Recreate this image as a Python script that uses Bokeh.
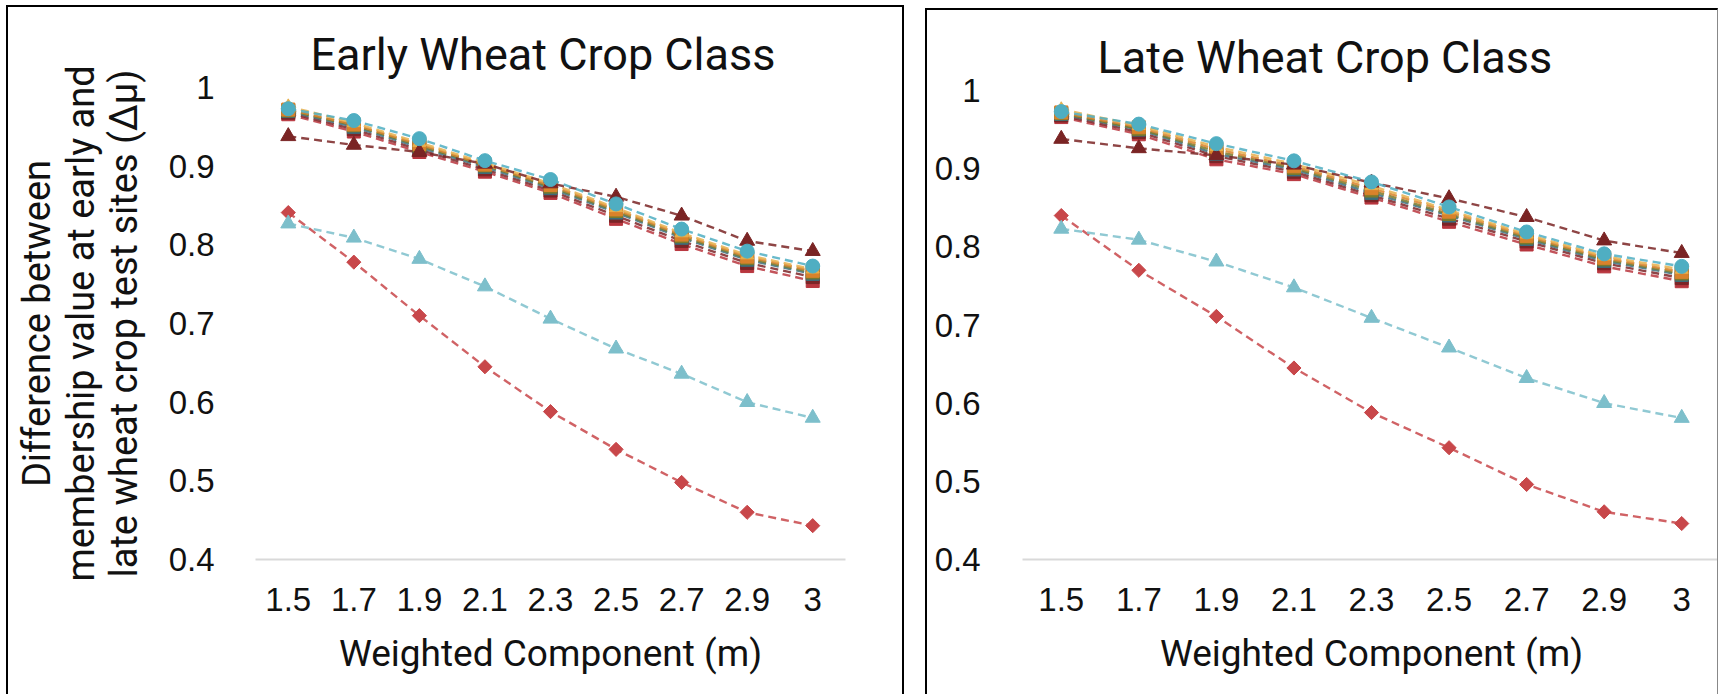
from bokeh.plotting import figure
from bokeh.layouts import row
from bokeh.models import FactorRange, Range1d, FixedTicker, NumeralTickFormatter, Title
from bokeh.embed import file_html
from bokeh.resources import INLINE

m_labels = ["1.5", "1.7", "1.9", "2.1", "2.3", "2.5", "2.7", "2.9", "3"]
y_ticks = [0.4, 0.5, 0.6, 0.7, 0.8, 0.9, 1.0]

# ---- Early wheat crop class ----
early_diamond = [0.841, 0.778, 0.710, 0.645, 0.588, 0.540, 0.498, 0.460, 0.443]
early_tri_light = [0.827, 0.809, 0.782, 0.747, 0.706, 0.668, 0.636, 0.600, 0.580]
early_tri_dark = [0.938, 0.927, 0.918, 0.903, 0.878, 0.861, 0.837, 0.805, 0.792]
early_sq_red = [0.966, 0.944, 0.918, 0.893, 0.866, 0.833, 0.801, 0.773, 0.754]
early_sq_darkred = [0.968, 0.947, 0.921, 0.896, 0.869, 0.837, 0.805, 0.777, 0.759]
early_sq_teal = [0.970, 0.950, 0.924, 0.899, 0.872, 0.841, 0.809, 0.781, 0.763]
early_sq_olive = [0.971, 0.952, 0.926, 0.901, 0.874, 0.843, 0.811, 0.783, 0.765]
early_sq_orange = [0.972, 0.953, 0.928, 0.902, 0.876, 0.845, 0.813, 0.785, 0.767]
early_tri_tan = [0.976, 0.955, 0.930, 0.904, 0.878, 0.847, 0.815, 0.787, 0.769]
early_circle = [0.973, 0.958, 0.935, 0.907, 0.883, 0.852, 0.820, 0.792, 0.773]

# ---- Late wheat crop class ----
late_diamond = [0.840, 0.770, 0.711, 0.645, 0.588, 0.543, 0.496, 0.461, 0.446]
late_tri_light = [0.823, 0.809, 0.781, 0.748, 0.709, 0.671, 0.632, 0.600, 0.581]
late_tri_dark = [0.938, 0.926, 0.917, 0.905, 0.882, 0.862, 0.838, 0.808, 0.792]
late_sq_red = [0.966, 0.944, 0.912, 0.893, 0.863, 0.832, 0.803, 0.775, 0.756]
late_sq_darkred = [0.968, 0.947, 0.916, 0.896, 0.866, 0.836, 0.807, 0.779, 0.760]
late_sq_teal = [0.970, 0.950, 0.919, 0.899, 0.869, 0.840, 0.810, 0.782, 0.764]
late_sq_olive = [0.971, 0.951, 0.922, 0.901, 0.872, 0.842, 0.812, 0.784, 0.766]
late_sq_orange = [0.972, 0.953, 0.925, 0.903, 0.875, 0.845, 0.814, 0.786, 0.768]
late_tri_tan = [0.976, 0.955, 0.928, 0.906, 0.878, 0.847, 0.816, 0.788, 0.771]
late_circle = [0.973, 0.957, 0.932, 0.910, 0.883, 0.851, 0.819, 0.791, 0.775]

# (marker, colour, size, angle) per series, in drawing order
styles = [
    ("square", "#C8474A", 10, 0.785398),   # diamond
    ("triangle", "#7DBFCB", 15, 0.0),
    ("square", "#B8363E", 13, 0.0),
    ("square", "#7B2527", 13, 0.0),
    ("square", "#3B6E7C", 13, 0.0),
    ("square", "#7D7A2A", 13, 0.0),
    ("square", "#D9822B", 13, 0.0),
    ("triangle", "#E6B04E", 13, 0.0),
    ("triangle", "#7A2424", 15, 0.0),
    ("circle", "#4FAEC2", 14, 0.0),
]

early_series = [early_diamond, early_tri_light, early_sq_red, early_sq_darkred, early_sq_teal,
                early_sq_olive, early_sq_orange, early_tri_tan, early_tri_dark, early_circle]
late_series = [late_diamond, late_tri_light, late_sq_red, late_sq_darkred, late_sq_teal,
               late_sq_olive, late_sq_orange, late_tri_tan, late_tri_dark, late_circle]

TICK_FONT = "Liberation Sans"
TEXT_FONT = "Roboto"


def make_panel(series, title, width, height, mb_left, mb_right, mb_top, mb_bottom,
               title_offset, tick_standoff, ylabel, margin, border_css):
    p = figure(x_range=FactorRange(*m_labels, range_padding=0),
               y_range=Range1d(0.4, 1.0),
               width=width, height=height, output_backend="svg", toolbar_location=None,
               min_border_left=mb_left, min_border_right=mb_right,
               min_border_top=mb_top, min_border_bottom=mb_bottom,
               background_fill_color="white", border_fill_color="white")
    p.margin = margin
    p.styles = border_css
    p.outline_line_color = None
    p.xgrid.visible = False
    p.ygrid.visible = False

    t = Title(text=title, align="left", offset=title_offset, text_font=TEXT_FONT,
              text_font_size="45px", text_font_style="normal", text_color="#111111",
              standoff=13)
    p.add_layout(t, "above")

    for vals, (marker, color, size, angle) in zip(series, styles):
        p.line(m_labels, vals, line_color=color, line_width=2.4, line_dash="8 5", line_alpha=0.85)
        p.scatter(m_labels, vals, marker=marker, size=size, angle=angle,
                  fill_color=color, line_color=color)

    xa = p.xaxis[0]
    xa.axis_line_color = "#D9D9D9"
    xa.axis_line_width = 2
    xa.major_tick_line_color = None
    xa.minor_tick_line_color = None
    xa.major_label_text_font = TICK_FONT
    xa.major_label_text_font_size = "33px"
    xa.major_label_text_color = "#111111"
    xa.major_label_standoff = 22

    xt = Title(text="Weighted Component (m)", align="center",
               text_font=TEXT_FONT, text_font_size="37px", text_font_style="normal",
               text_color="#111111", standoff=32)
    p.add_layout(xt, "below")

    ya = p.yaxis[0]
    ya.ticker = FixedTicker(ticks=y_ticks)
    ya.formatter = NumeralTickFormatter(format="0.[0]")
    ya.axis_line_color = None
    ya.major_tick_line_color = None
    ya.minor_tick_line_color = None
    ya.major_label_text_font = TICK_FONT
    ya.major_label_text_font_size = "33px"
    ya.major_label_text_color = "#111111"
    ya.major_label_standoff = tick_standoff
    if ylabel:
        ya.axis_label = ylabel
        ya.axis_label_text_font = TEXT_FONT
        ya.axis_label_text_font_size = "38px"
        ya.axis_label_text_font_style = "normal"
        ya.axis_label_text_color = "#111111"
        ya.axis_label_text_line_height = 0.98
        ya.axis_label_standoff = 20
    return p


left = make_panel(early_series, "Early Wheat Crop Class", 898, 689, 247, 61, 80, 137,
                  55, 35,
                  "Difference between\nmembership value at early and\nlate wheat crop test sites (\u0394\u03bc)",
                  (5, 0, 0, 6),
                  {"border-top": "2px solid black", "border-left": "2px solid black",
                   "border-right": "2px solid black"})

right = make_panel(late_series, "Late Wheat Crop Class", 793, 686, 95, 0, 77, 137,
                   75, 36, None,
                   (8, 0, 0, 21),
                   {"border-top": "2px solid black", "border-left": "2px solid black",
                    "border-right": "1px solid #888888"})

layout = row(left, right)

open("out.html", "w").write(file_html(layout, INLINE))
